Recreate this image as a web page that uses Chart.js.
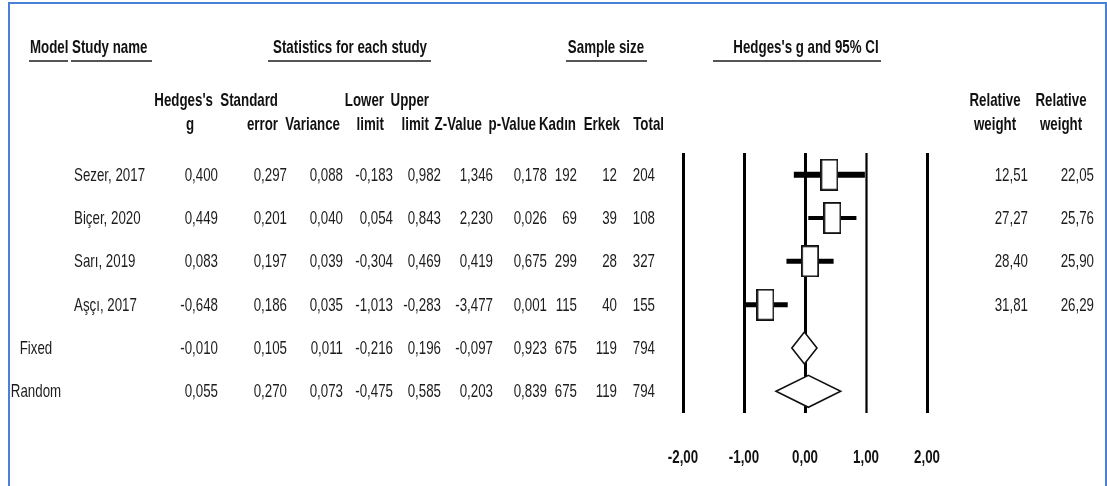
<!DOCTYPE html>
<html>
<head>
<meta charset="utf-8">
<script src="https://cdn.jsdelivr.net/npm/chart.js@4.4.1/dist/chart.umd.min.js"></script>
<style>
  html, body { margin: 0; padding: 0; background: #fff; }
  #wrap { position: relative; width: 1107px; height: 486px; overflow: hidden; background: #fff; }
  #plot { position: absolute; left: 0; top: 0; }
  .t { position: absolute; white-space: nowrap; width: 400px; height: 22px; line-height: 22px;
       font-family: "Liberation Sans", Arial, sans-serif; font-size: 18.5px; color: #1c1c1c; }
  .b { font-weight: bold; color: #111; }
  .rule { position: absolute; height: 2px; background: #555; }
  .frame { position: absolute; background: #4a80d8; }
</style>
</head>
<body>
<div id="wrap"><canvas id="plot" width="1107" height="486"></canvas></div>
<script>
// ---- study data ----
const studyNames   = ['Sezer, 2017', 'Biçer, 2020', 'Sarı, 2019', 'Aşçı, 2017'];
const modelNames   = ['Fixed', 'Random'];
const hedgesG      = [0.400, 0.449, 0.083, -0.648, -0.010, 0.055];
const stdErr       = [0.297, 0.201, 0.197, 0.186, 0.105, 0.270];
const variance     = [0.088, 0.040, 0.039, 0.035, 0.011, 0.073];
const lowerLimit   = [-0.183, 0.054, -0.304, -1.013, -0.216, -0.475];
const upperLimit   = [0.982, 0.843, 0.469, -0.283, 0.196, 0.585];
const zValue       = [1.346, 2.230, 0.419, -3.477, -0.097, 0.203];
const pValue       = [0.178, 0.026, 0.675, 0.001, 0.923, 0.839];
const kadin        = [192, 69, 299, 115, 675, 675];
const erkek        = [12, 39, 28, 40, 119, 119];
const total        = [204, 108, 327, 155, 794, 794];
const weightFixed  = [12.51, 27.27, 28.40, 31.81];
const weightRandom = [22.05, 25.76, 25.90, 26.29];
const axisTicks    = [-2, -1, 0, 1, 2];

const fmt3 = v => v.toFixed(3).replace('.', ',');
const fmt2 = v => v.toFixed(2).replace('.', ',');

const SX = 0.72;               // horizontal squeeze for the narrow typeface
const FONT = '"Liberation Sans", Arial, sans-serif';
const nRows = studyNames.length + modelNames.length;

// ---- marks ----
const whiskerWidth = [6, 4, 5, 5];
const datasets = [];

// study boxes (white rectangles centred on Hedges's g)
const boxImg = document.createElement('canvas');
boxImg.width = 18; boxImg.height = 32;
(() => {
  const c = boxImg.getContext('2d');
  c.fillStyle = '#fff'; c.fillRect(0, 0, 18, 32);
  c.strokeStyle = '#111'; c.lineWidth = 1.8;
  c.strokeRect(0.9, 0.9, 16.2, 30.2);
})();
datasets.push({
  type: 'scatter', order: 0,
  data: studyNames.map((_, i) => ({ x: hedgesG[i], y: i })),
  pointStyle: boxImg, pointRadius: 9
});

// confidence-interval whiskers
studyNames.forEach((_, i) => {
  datasets.push({
    type: 'line', order: 2, showLine: true,
    data: [{ x: lowerLimit[i], y: i }, { x: upperLimit[i], y: i }],
    borderColor: '#000', borderWidth: whiskerWidth[i], borderCapStyle: 'butt',
    pointRadius: 0
  });
});

// vertical reference lines behind the marks
const gridPlugin = {
  id: 'refLines',
  beforeDatasetsDraw(chart) {
    const { ctx, chartArea, scales } = chart;
    const widths = [3, 3, 3, 2.2, 3];
    ctx.save();
    ctx.strokeStyle = '#000';
    axisTicks.forEach((t, k) => {
      const x = Math.round(scales.x.getPixelForValue(t)) + 0.5;
      ctx.lineWidth = widths[k];
      ctx.beginPath();
      ctx.moveTo(x, chartArea.top);
      ctx.lineTo(x, chartArea.bottom);
      ctx.stroke();
    });
    ctx.restore();
  }
};

// summary diamonds (Fixed, Random) and axis labels
const diamondPlugin = {
  id: 'summaryDiamonds',
  afterDatasetsDraw(chart) {
    const { ctx, scales } = chart;
    const halfH = 16;
    ctx.save();
    modelNames.forEach((_, k) => {
      const r = studyNames.length + k;
      const y = scales.y.getPixelForValue(r);
      const xl = scales.x.getPixelForValue(lowerLimit[r]);
      const xc = scales.x.getPixelForValue(hedgesG[r]);
      const xr = scales.x.getPixelForValue(upperLimit[r]);
      ctx.beginPath();
      ctx.moveTo(xl, y);
      ctx.lineTo(xc, y - halfH);
      ctx.lineTo(xr, y);
      ctx.lineTo(xc, y + halfH);
      ctx.closePath();
      ctx.fillStyle = '#fff';
      ctx.fill();
      ctx.strokeStyle = '#111';
      ctx.lineWidth = 1.6;
      ctx.stroke();
    });
    ctx.restore();
  },
  afterDraw(chart) {
    const { ctx, scales } = chart;
    ctx.save();
    ctx.fillStyle = '#111';
    ctx.font = 'bold 18.5px ' + FONT;
    ctx.textAlign = 'center';
    ctx.textBaseline = 'middle';
    axisTicks.forEach(t => {
      ctx.save();
      ctx.translate(scales.x.getPixelForValue(t), 458);
      ctx.scale(SX, 1);
      ctx.fillText(fmt2(t), 0, 0);
      ctx.restore();
    });
    ctx.restore();
  }
};

const chart = new Chart(document.getElementById('plot'), {
  type: 'scatter',
  data: { datasets },
  options: {
    responsive: false,
    animation: false,
    devicePixelRatio: 1,
    layout: { padding: { left: 683, right: 180, top: 153, bottom: 73 } },
    scales: {
      x: { type: 'linear', min: -2, max: 2, display: false },
      y: { type: 'linear', min: -0.5, max: nRows - 0.5, reverse: true, display: false }
    },
    plugins: { legend: { display: false }, tooltip: { enabled: false } }
  },
  plugins: [gridPlugin, diamondPlugin]
});

// ---- table text ----
const wrap = document.getElementById('wrap');
function put(text, x, y, align, bold) {
  const d = document.createElement('div');
  d.className = 't' + (bold ? ' b' : '');
  d.textContent = text;
  const w = 400;
  d.style.left = (align === 'left' ? x : align === 'right' ? x - w : x - w / 2) + 'px';
  d.style.top = (y - 11) + 'px';
  d.style.textAlign = align;
  d.style.transformOrigin = align === 'left' ? 'left center' : align === 'right' ? 'right center' : 'center center';
  d.style.transform = 'scaleX(' + SX + ')';
  wrap.appendChild(d);
}
function rule(x1, x2, y) {
  const d = document.createElement('div');
  d.className = 'rule';
  d.style.left = x1 + 'px'; d.style.width = (x2 - x1) + 'px'; d.style.top = y + 'px';
  wrap.appendChild(d);
}

// group titles
const titleY = 47, ruleY = 60;
put('Model', 30, titleY, 'left', true);            rule(29, 68, ruleY);
put('Study name', 72, titleY, 'left', true);       rule(71, 152, ruleY);
put('Statistics for each study', 350, titleY, 'center', true); rule(268, 431, ruleY);
put('Sample size', 606, titleY, 'center', true);   rule(566, 647, ruleY);
put("Hedges's g and 95% CI", 806, titleY, 'center', true); rule(713, 881, ruleY);

// column headers
const h1 = 100, h2 = 124;
put("Hedges's", 213, h1, 'right', true);  put('g', 190, h2, 'center', true);
put('Standard', 278, h1, 'right', true);  put('error', 278, h2, 'right', true);
put('Variance', 340, h2, 'right', true);
put('Lower', 384, h1, 'right', true);     put('limit', 384, h2, 'right', true);
put('Upper', 429, h1, 'right', true);     put('limit', 429, h2, 'right', true);
put('Z-Value', 482, h2, 'right', true);
put('p-Value', 536, h2, 'right', true);
put('Kadın', 576, h2, 'right', true);
put('Erkek', 620, h2, 'right', true);
put('Total', 664, h2, 'right', true);
put('Relative', 995, h1, 'center', true); put('weight', 995, h2, 'center', true);
put('Relative', 1061, h1, 'center', true); put('weight', 1061, h2, 'center', true);

// rows, aligned to the plot rows through the y scale
const numCols = [
  { vals: hedgesG,    f: fmt3,   right: 218 },
  { vals: stdErr,     f: fmt3,   right: 287 },
  { vals: variance,   f: fmt3,   right: 343 },
  { vals: lowerLimit, f: fmt3,   right: 393 },
  { vals: upperLimit, f: fmt3,   right: 441 },
  { vals: zValue,     f: fmt3,   right: 493 },
  { vals: pValue,     f: fmt3,   right: 547 },
  { vals: kadin,      f: String, right: 577 },
  { vals: erkek,      f: String, right: 617 },
  { vals: total,      f: String, right: 655 }
];
for (let r = 0; r < nRows; r++) {
  const y = chart.scales.y.getPixelForValue(r);
  if (r < studyNames.length) {
    put(studyNames[r], 74, y, 'left', false);
    put(fmt2(weightFixed[r]), 1028, y, 'right', false);
    put(fmt2(weightRandom[r]), 1094, y, 'right', false);
  } else {
    put(modelNames[r - studyNames.length], 36, y, 'center', false);
  }
  numCols.forEach(c => put(c.f(c.vals[r]), c.right, y, 'right', false));
}

// blue frame
[[8, 2, 2, 484], [8, 2, 1099, 2], [1105, 2, 2, 484]].forEach(([l, t, w, h]) => {
  const d = document.createElement('div');
  d.className = 'frame';
  d.style.left = l + 'px'; d.style.top = t + 'px'; d.style.width = w + 'px'; d.style.height = h + 'px';
  wrap.appendChild(d);
});
</script>
</body>
</html>
